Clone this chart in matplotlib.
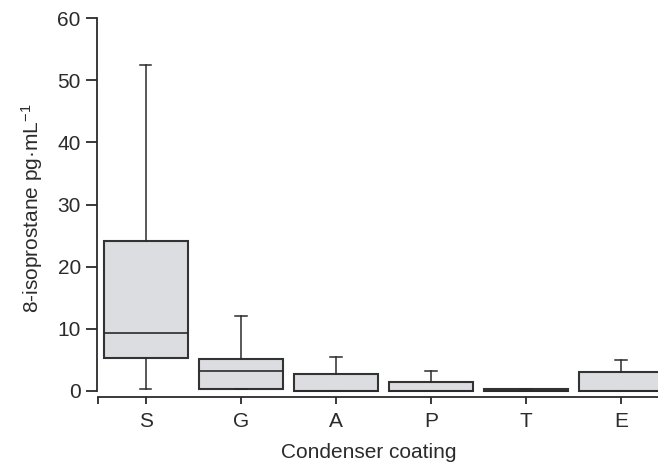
import matplotlib
matplotlib.use("Agg")
import matplotlib.pyplot as plt

plt.rcParams['font.family'] = ['Liberation Sans', 'DejaVu Sans']
plt.rcParams['mathtext.fontset'] = 'custom'
plt.rcParams['mathtext.rm'] = 'Liberation Sans'
plt.rcParams['mathtext.it'] = 'Liberation Sans'
plt.rcParams['axes.unicode_minus'] = False

categories = ['S', 'G', 'A', 'P', 'T', 'E']
whisker_lo = [0.3, 0.25, 0.0, 0.0, 0.0, 0.0]
q1 = [5.3, 0.25, 0.0, 0.0, 0.0, 0.0]
median = [9.4, 3.2, 0.0, 0.0, 0.0, 0.0]
q3 = [24.2, 5.1, 2.75, 1.4, 0.35, 3.0]
whisker_hi = [52.4, 12.0, 5.4, 3.2, 0.35, 5.0]

ink = '#2b2b2b'

stats = []
for i, name in enumerate(categories):
    stats.append({'label': name, 'whislo': whisker_lo[i], 'q1': q1[i], 'med': median[i],
                  'q3': q3[i], 'whishi': whisker_hi[i], 'fliers': []})

fig = plt.figure(figsize=(6.58, 4.62), dpi=100)
# axes placed in pixel terms; right edge runs off the figure like the original crop
ax = fig.add_axes([97.3 / 658, (462 - 396.7) / 462, 1 - 97.3 / 658, (396.7 - 10) / 462])

positions = list(range(1, len(categories) + 1))
ax.bxp(stats, positions=positions, widths=0.88, capwidths=0.12, patch_artist=True,
       showfliers=False,
       boxprops=dict(facecolor='#dcdde0', edgecolor='#333333', linewidth=1.5),
       medianprops=dict(color=ink, linewidth=1.2),
       whiskerprops=dict(color=ink, linewidth=1.1),
       capprops=dict(color=ink, linewidth=1.1))

ax.set_xlim(0.49, 6.39)
ax.set_ylim(-0.917, 61.29)

for side in ['top', 'right']:
    ax.spines[side].set_visible(False)
ax.spines['left'].set_bounds(0, 60)
ax.spines['bottom'].set_bounds(0.5, 6.39)
for side in ['left', 'bottom']:
    ax.spines[side].set_color(ink)
    ax.spines[side].set_linewidth(1.3)

ax.set_yticks([0, 10, 20, 30, 40, 50, 60])
ax.set_xticks([0.5] + positions)
ax.set_xticklabels([''] + categories)
ax.tick_params(axis='y', direction='out', length=7.9, width=1.3, color=ink,
               labelsize=15, labelcolor=ink, pad=4)
ax.tick_params(axis='x', direction='out', length=5, width=1.3, color=ink,
               labelsize=15, labelcolor=ink, pad=6)

ax.set_xlabel('Condenser coating', fontsize=15, color=ink)
ax.set_ylabel('8-isoprostane pg·mL$^{-1}$', fontsize=15, color=ink)
ax.xaxis.set_label_coords((368.3 - 97.3) / 560.7, -0.12)
ax.yaxis.set_label_coords(-0.094, 0.487)

fig.savefig('out.png', dpi=100)
